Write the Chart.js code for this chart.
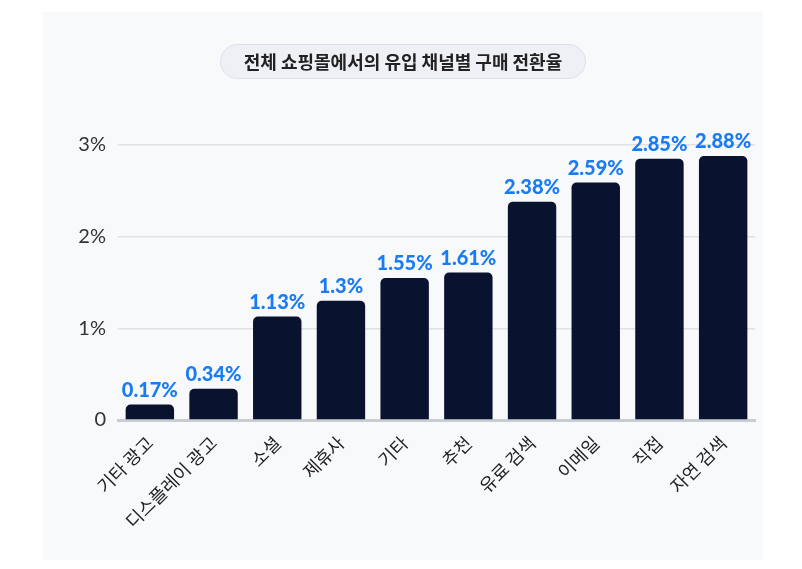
<!DOCTYPE html>
<html>
<head>
<meta charset="utf-8">
<script src="https://cdn.jsdelivr.net/npm/chart.js@4/dist/chart.umd.min.js"></script>
<style>
  html, body { margin: 0; padding: 0; background: #ffffff; }
  #panel {
    position: absolute; left: 43px; top: 12px; width: 720px; height: 548px;
    background: #f8f9fb;
  }
  #title {
    position: absolute; left: 177px; top: 32px; width: 364px; height: 33px;
    background: #eef0f5; border: 1px solid #dcdfe6; border-radius: 18px;
    font-family: "Noto Sans CJK KR", sans-serif; font-weight: bold; font-size: 18px;
    color: #222; text-align: center; line-height: 33px;
  }
  #barChart { position: absolute; left: 0; top: 0; }
</style>
</head>
<body>
<div id="panel">
  <canvas id="barChart" width="720" height="548"></canvas>
  <div id="title">전체 쇼핑몰에서의 유입 채널별 구매 전환율</div>
</div>
<script>
// 채널별 구매 전환율 (%)
const channels = ["기타 광고", "디스플레이 광고", "소셜", "제휴사", "기타", "추천", "유료 검색", "이메일", "직접", "자연 검색"];
const rates = [0.17, 0.34, 1.13, 1.3, 1.55, 1.61, 2.38, 2.59, 2.85, 2.88];
const yTicks = [0, 1, 2, 3];

// 막대 위 값 표시
const valueLabels = {
    id: 'valueLabels',
    afterDatasetsDraw(chart) {
        const ctx = chart.ctx;
        const meta = chart.getDatasetMeta(0);
        ctx.save();
        ctx.font = "900 20px Lato";
        ctx.fillStyle = "#1a7cf5";
        ctx.textAlign = "center";
        ctx.textBaseline = "bottom";
        meta.data.forEach((bar, i) => {
            ctx.fillText(rates[i] + "%", bar.x, bar.y - 4);
        });
        ctx.restore();
    }
};

new Chart(document.getElementById("barChart"), {
    type: 'bar',
    data: {
        labels: channels,
        datasets: [{
            data: rates,
            backgroundColor: "#09122f",
            borderRadius: { topLeft: 5, topRight: 5 },
            borderSkipped: 'bottom',
            barPercentage: 0.76,
            categoryPercentage: 1
        }]
    },
    options: {
        responsive: false,
        animation: false,
        devicePixelRatio: 1,
        layout: { padding: { top: 105.5, right: 8, left: 0, bottom: 0 } },
        plugins: { legend: { display: false }, tooltip: { enabled: false } },
        scales: {
            x: {
                grid: { display: false },
                border: { color: "#c9cdd1", width: 3 },
                ticks: {
                    font: { family: "Noto Sans CJK KR", size: 18 },
                    color: "#222",
                    maxRotation: 45,
                    minRotation: 45,
                    padding: 4
                },
                afterFit(scale) { scale.height = 140; }
            },
            y: {
                min: 0,
                max: 3.3,
                afterBuildTicks(scale) { scale.ticks = yTicks.map(v => ({ value: v })); },
                grid: { color: "#dfe2e5", lineWidth: 1.5, drawTicks: false },
                border: { display: false },
                ticks: {
                    font: { family: "Lato", size: 20 },
                    color: "#333",
                    padding: 12,
                    callback: v => v === 0 ? "0" : v + "%"
                },
                afterFit(scale) { scale.width = 75; }
            }
        }
    },
    plugins: [valueLabels]
});
</script>
</body>
</html>
